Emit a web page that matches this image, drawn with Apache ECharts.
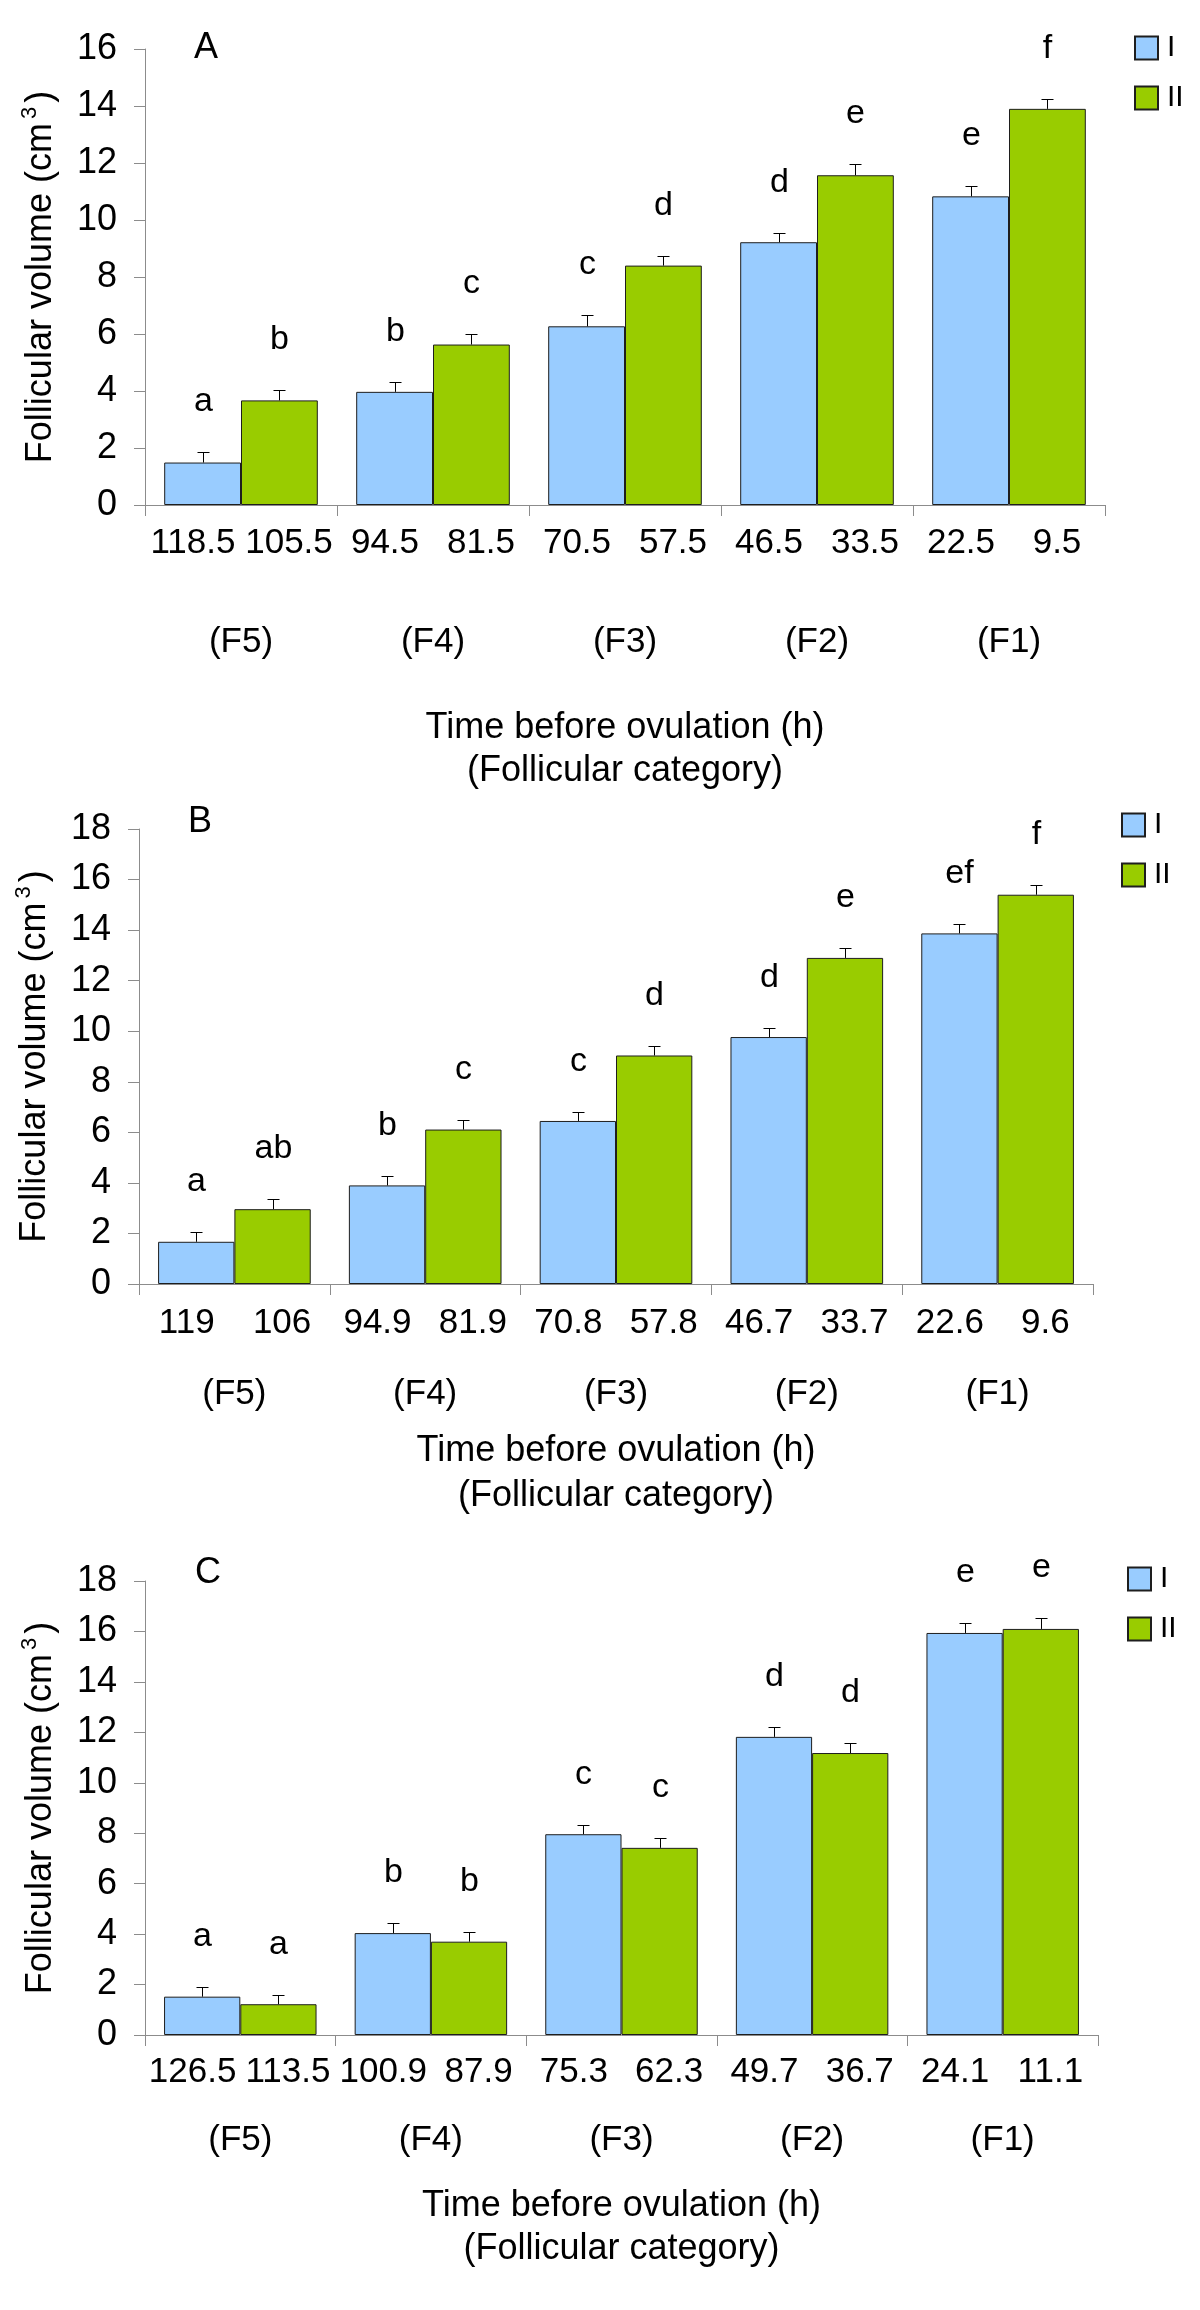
<!DOCTYPE html>
<html><head><meta charset="utf-8">
<script src="https://cdn.jsdelivr.net/npm/echarts@6/dist/echarts.min.js"></script>
<style>html,body{margin:0;padding:0;background:#fff}#c{width:1200px;height:2310px}</style>
</head><body><div id="c"></div>
<script>
// ---------- DATA ----------
const categories = ['(F5)', '(F4)', '(F3)', '(F2)', '(F1)'];
const seriesNames = ['I', 'II'];

const hoursA = ['118.5', '105.5', '94.5', '81.5', '70.5', '57.5', '46.5', '33.5', '22.5', '9.5'];
const volA_I  = [1.49, 3.97, 6.27, 9.22, 10.83];
const volA_II = [3.67, 5.63, 8.40, 11.57, 13.90];
const seA_I   = [0.37, 0.35, 0.40, 0.34, 0.35];
const seA_II  = [0.38, 0.37, 0.35, 0.38, 0.35];
const letA_I  = ['a', 'b', 'c', 'd', 'e'];
const letA_II = ['b', 'c', 'd', 'e', 'f'];

const hoursB = ['119', '106', '94.9', '81.9', '70.8', '57.8', '46.7', '33.7', '22.6', '9.6'];
const volB_I  = [1.67, 3.90, 6.45, 9.77, 13.87];
const volB_II = [2.96, 6.11, 9.04, 12.90, 15.40];
const seB_I   = [0.39, 0.37, 0.36, 0.37, 0.39];
const seB_II  = [0.39, 0.39, 0.39, 0.39, 0.40];
const letB_I  = ['a', 'b', 'c', 'd', 'ef'];
const letB_II = ['ab', 'c', 'd', 'e', 'f'];

const hoursC = ['126.5', '113.5', '100.9', '87.9', '75.3', '62.3', '49.7', '36.7', '24.1', '11.1'];
const volC_I  = [1.52, 4.04, 7.96, 11.82, 15.94];
const volC_II = [1.22, 3.70, 7.42, 11.18, 16.10];
const seC_I   = [0.38, 0.40, 0.38, 0.38, 0.40];
const seC_II  = [0.38, 0.39, 0.40, 0.39, 0.45];
const letC_I  = ['a', 'b', 'c', 'd', 'e'];
const letC_II = ['a', 'b', 'c', 'd', 'e'];

const yMaxA = 16, yMaxB = 18, yMaxC = 18;
const yAxisName = 'Follicular volume (cm';
const xAxisName = 'Time before ovulation (h)\n(Follicular category)';

// ---------- LAYOUT / STYLE ----------
const FONT = '"Liberation Sans", Arial, Helvetica, sans-serif';
const BLUE = '#99CCFF', GREEN = '#99CC00', AXIS = '#8c8c8c';

const panels = [
  { tag: 'A', hours: hoursA, v: [volA_I, volA_II], e: [seA_I, seA_II], l: [letA_I, letA_II], max: yMaxA,
    grid: { left: 145, right: 95, top: 49, height: 456 }, numMargin: 21, catMargin: 120, nameGap: 202, nameLH: 43,
    legend: { left: 1134, top: 33 }, tagPos: [206, 48] },
  { tag: 'B', hours: hoursB, v: [volB_I, volB_II], e: [seB_I, seB_II], l: [letB_I, letB_II], max: yMaxB,
    grid: { left: 139, right: 107, top: 829, height: 455 }, numMargin: 22, catMargin: 93, nameGap: 145, nameLH: 45,
    legend: { left: 1121, top: 810 }, tagPos: [200, 822] },
  { tag: 'C', hours: hoursC, v: [volC_I, volC_II], e: [seC_I, seC_II], l: [letC_I, letC_II], max: yMaxC,
    grid: { left: 145, right: 102, top: 1581, height: 454 }, numMargin: 20, catMargin: 88, nameGap: 150, nameLH: 43,
    legend: { left: 1127, top: 1564 }, tagPos: [208, 1573] }
];

const option = {
  backgroundColor: '#fff',
  animation: false,
  textStyle: { fontFamily: FONT, color: '#000' },
  grid: [], xAxis: [], yAxis: [], series: [], legend: [], graphic: []
};

panels.forEach((p, g) => {
  option.grid.push(Object.assign({ containLabel: false }, p.grid));
  // primary category axis (groups)
  option.xAxis.push({
    type: 'category', gridIndex: g, position: 'bottom', data: categories,
    axisLine: { show: true, lineStyle: { color: AXIS, width: 1 } },
    axisTick: { show: true, length: 11, lineStyle: { color: AXIS } },
    axisLabel: { margin: p.catMargin, fontSize: 35, color: '#000', fontFamily: FONT, lineHeight: 35 },
    name: xAxisName, nameLocation: 'middle', nameGap: p.nameGap,
    nameTextStyle: { fontSize: 36, color: '#000', fontFamily: FONT, lineHeight: p.nameLH }
  });
  // secondary axis: hours under each bar
  option.xAxis.push({
    type: 'category', gridIndex: g, position: 'bottom', data: p.hours,
    axisLine: { show: false }, axisTick: { show: false }, splitLine: { show: false },
    axisLabel: { margin: p.numMargin, fontSize: 35, color: '#000', fontFamily: FONT, interval: 0, lineHeight: 35 }
  });
  option.yAxis.push({
    type: 'value', gridIndex: g, min: 0, max: p.max, interval: 2,
    axisLine: { show: true, lineStyle: { color: AXIS, width: 1 } },
    axisTick: { show: true, length: 11, lineStyle: { color: AXIS } },
    splitLine: { show: false },
    axisLabel: { margin: 28, fontSize: 36, color: '#000', fontFamily: FONT },
    name: '{t|' + yAxisName + '}{s|3}{t|)}', nameLocation: 'middle', nameGap: 82,
    nameTextStyle: {
      rich: {
        t: { fontSize: 36, fontFamily: FONT, color: '#000', lineHeight: 44 },
        s: { fontSize: 22, fontFamily: FONT, color: '#000', lineHeight: 44, verticalAlign: 'top', padding: [0, 4, 0, 4] }
      }
    }
  });
  const xi = g * 2;
  [0, 1].forEach(s => {
    option.series.push({
      type: 'bar', name: seriesNames[s], xAxisIndex: xi, yAxisIndex: g,
      data: p.v[s], barGap: '0%', barCategoryGap: '20%',
      itemStyle: { color: s === 0 ? BLUE : GREEN, borderColor: '#1e1e1e', borderWidth: 1 },
      emphasis: { disabled: true }
    });
  });
  const items = [];
  [0, 1].forEach(s => p.v[s].forEach((val, i) => items.push({ cat: i, s: s, v: val, e: p.e[s][i], letter: p.l[s][i] })));
  option.series.push({
    type: 'custom', name: 'err' + p.tag, xAxisIndex: xi, yAxisIndex: g, z: 5,
    data: items.map(it => [it.cat, it.v + it.e, it.s]),
    encode: { x: 0, y: 1 },
    renderItem: (params, api) => {
      const it = items[params.dataIndex];
      const base = api.coord([it.cat, it.v]);
      const top = api.coord([it.cat, it.v + it.e]);
      const bw = api.size([1, 0])[0];
      const x = Math.round(base[0] + (it.s === 0 ? -0.2 : 0.2) * bw) + 0.5;
      const yt = Math.round(top[1]) + 0.5;
      return { type: 'group', children: [
        { type: 'line', shape: { x1: x, y1: base[1], x2: x, y2: yt }, style: { stroke: '#000', lineWidth: 1 } },
        { type: 'line', shape: { x1: x - 6, y1: yt, x2: x + 6, y2: yt }, style: { stroke: '#000', lineWidth: 1 } },
        { type: 'text', x: x, y: yt - 34, style: { text: it.letter, fontSize: 34, fontFamily: FONT, fill: '#000', align: 'center', verticalAlign: 'bottom' } }
      ] };
    }
  });
  option.legend.push({
    show: true, orient: 'vertical', left: p.legend.left, top: p.legend.top, padding: 0,
    data: seriesNames, icon: 'rect', itemWidth: 23, itemHeight: 23, itemGap: 20,
    textStyle: { fontSize: 30, color: '#000', fontFamily: FONT, lineHeight: 30, padding: [0, 0, 0, 4] },
    selectedMode: false
  });
  option.graphic.push({
    type: 'text', x: p.tagPos[0], y: p.tagPos[1],
    style: { text: p.tag, fontSize: 36, fontFamily: FONT, fill: '#000', align: 'center', verticalAlign: 'middle' }
  });
});

const chart = echarts.init(document.getElementById('c'), null, { renderer: 'canvas' });
chart.setOption(option);
</script></body></html>
